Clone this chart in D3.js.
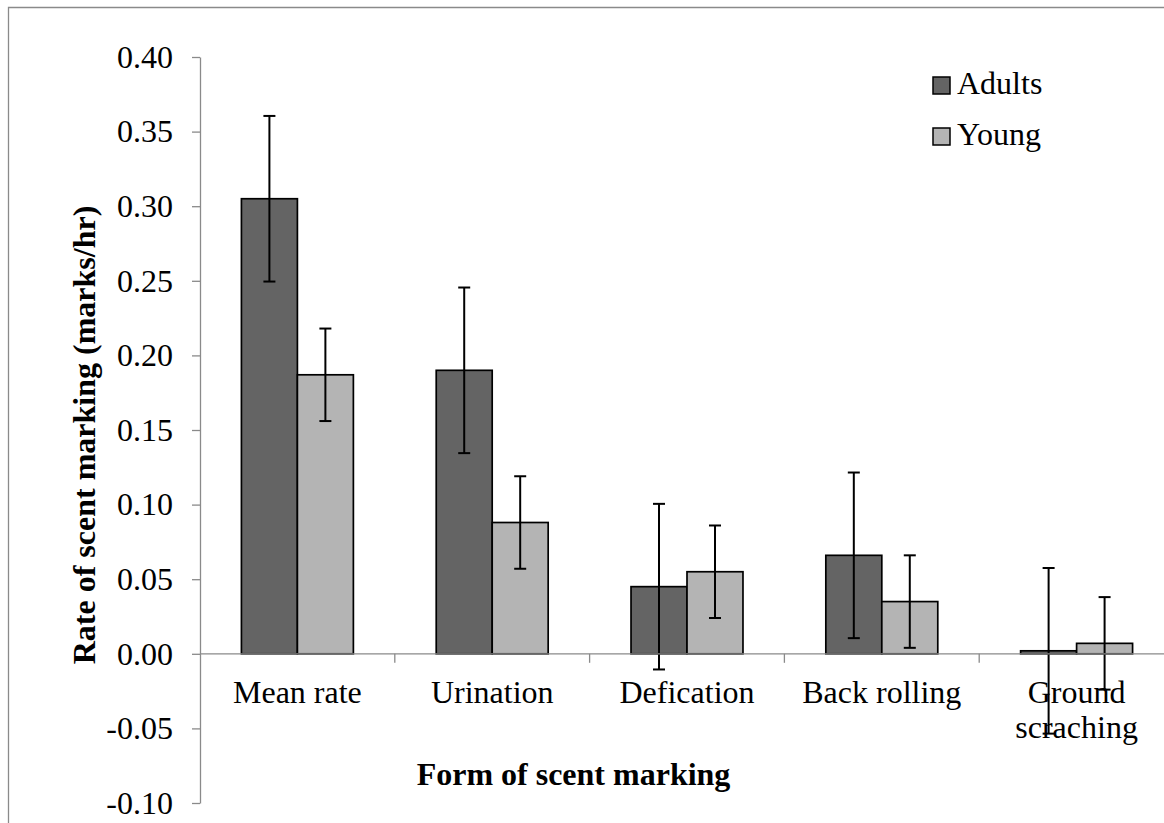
<!DOCTYPE html>
<html>
<head>
<meta charset="utf-8">
<script src="https://cdn.jsdelivr.net/npm/d3@7"></script>
<style>
  html, body { margin: 0; padding: 0; background: #fff; }
  svg { display: block; font-family: "Liberation Serif", "Times New Roman", serif; }
</style>
</head>
<body>
<svg id="chart" width="1164" height="823"></svg>
<script>
// Scent marking rates by form, for adults and young
const categories = ["Mean rate", "Urination", "Defication", "Back rolling", "Ground\nscraching"];
const seriesNames = ["Adults", "Young"];
const adultValues = [0.305, 0.190, 0.045, 0.066, 0.002];
const youngValues = [0.187, 0.088, 0.055, 0.035, 0.007];
const adultErrors = [0.0555, 0.0555, 0.0555, 0.0555, 0.0555];
const youngErrors = [0.031, 0.031, 0.031, 0.031, 0.031];
const yTickValues = [-0.10, -0.05, 0.00, 0.05, 0.10, 0.15, 0.20, 0.25, 0.30, 0.35, 0.40];
const seriesColors = ["#646464", "#b4b4b4"];

const svg = d3.select("#chart");
const axisGray = "#8a8a8a";
const fontSize = 32;

// outer frame (top and left edges fall inside the page)
svg.append("path")
  .attr("d", "M8.5,840 V7.5 H1180")
  .attr("fill", "none").attr("stroke", axisGray).attr("stroke-width", 1.3);

const plot = { left: 200, top: 57, bottom: 803, right: 1174 };

const y = d3.scaleLinear().domain([-0.10, 0.40]).range([plot.bottom, plot.top]);
const x = d3.scaleBand().domain(categories).range([plot.left, plot.right]).paddingInner(0).paddingOuter(0);
const xs = d3.scaleBand().domain(seriesNames).range([0, x.bandwidth()]).paddingInner(0).paddingOuter(0.74);

// y axis
const yAxis = svg.append("g")
  .attr("transform", `translate(${plot.left},0)`)
  .call(d3.axisLeft(y).tickValues(yTickValues).tickSize(8).tickSizeOuter(0).tickPadding(19));
yAxis.select(".domain").attr("stroke", axisGray).attr("stroke-width", 1.3);
yAxis.selectAll(".tick line").attr("stroke", axisGray).attr("stroke-width", 1.3);
yAxis.selectAll(".tick text")
  .attr("font-family", "Liberation Serif, serif")
  .attr("font-size", fontSize).attr("fill", "#000")
  .text(d => d < 0 ? "-" + d3.format(".2f")(-d) : d3.format(".2f")(d));

const data = categories.map((c, i) => ({
  cat: c,
  bars: [
    { s: "Adults", v: adultValues[i], e: adultErrors[i], color: seriesColors[0] },
    { s: "Young", v: youngValues[i], e: youngErrors[i], color: seriesColors[1] }
  ]
}));

// bars
const groups = svg.append("g").selectAll("g").data(data).join("g")
  .attr("transform", d => `translate(${x(d.cat)},0)`);

groups.selectAll("rect").data(d => d.bars).join("rect")
  .attr("x", d => xs(d.s))
  .attr("width", xs.bandwidth())
  .attr("y", d => y(Math.max(0, d.v)))
  .attr("height", d => Math.abs(y(d.v) - y(0)))
  .attr("fill", d => d.color)
  .attr("stroke", "#000").attr("stroke-width", 1.7);

// x axis on the zero line
const xAxis = svg.append("g")
  .attr("transform", `translate(0,${y(0)})`);
xAxis.append("line")
  .attr("x1", plot.left).attr("x2", plot.right)
  .attr("stroke", axisGray).attr("stroke-width", 1.3);
xAxis.selectAll("line.tick").data(categories).join("line")
  .attr("class", "tick")
  .attr("x1", d => x(d) + x.step())
  .attr("x2", d => x(d) + x.step())
  .attr("y1", 0).attr("y2", 9)
  .attr("stroke", axisGray).attr("stroke-width", 1.3);

// error bars
const err = groups.selectAll("g.err").data(d => d.bars).join("g").attr("class", "err");
const cx = d => xs(d.s) + xs.bandwidth() / 2;
err.append("line")
  .attr("x1", cx).attr("x2", cx)
  .attr("y1", d => y(d.v + d.e)).attr("y2", d => y(d.v - d.e))
  .attr("stroke", "#000").attr("stroke-width", 2);
err.append("line")
  .attr("x1", d => cx(d) - 6).attr("x2", d => cx(d) + 6)
  .attr("y1", d => y(d.v + d.e)).attr("y2", d => y(d.v + d.e))
  .attr("stroke", "#000").attr("stroke-width", 2);
err.append("line")
  .attr("x1", d => cx(d) - 6).attr("x2", d => cx(d) + 6)
  .attr("y1", d => y(d.v - d.e)).attr("y2", d => y(d.v - d.e))
  .attr("stroke", "#000").attr("stroke-width", 2);

// category labels
svg.append("g").selectAll("text").data(categories).join("text")
  .attr("x", d => x(d) + x.bandwidth() / 2)
  .attr("y", 703)
  .attr("text-anchor", "middle")
  .attr("font-size", fontSize).attr("fill", "#000")
  .each(function (d) {
    const lines = d.split("\n");
    d3.select(this).selectAll("tspan").data(lines).join("tspan")
      .attr("x", x(d) + x.bandwidth() / 2)
      .attr("dy", (l, i) => i === 0 ? 0 : 35)
      .text(l => l);
  });

// axis titles
svg.append("text")
  .attr("x", 573.5).attr("y", 785)
  .attr("text-anchor", "middle")
  .attr("font-size", 32).attr("font-weight", "bold").attr("fill", "#000")
  .text("Form of scent marking");

svg.append("text")
  .attr("transform", "translate(95,435) rotate(-90)")
  .attr("text-anchor", "middle")
  .attr("font-size", 32).attr("font-weight", "bold").attr("fill", "#000")
  .text("Rate of scent marking (marks/hr)");

// legend
const legend = svg.append("g").selectAll("g").data(seriesNames).join("g")
  .attr("transform", (d, i) => `translate(933,${77 + i * 51})`);
legend.append("rect")
  .attr("width", 17).attr("height", 17)
  .attr("fill", (d, i) => seriesColors[i])
  .attr("stroke", "#000").attr("stroke-width", 1.5);
legend.append("text")
  .attr("x", 24).attr("y", 17)
  .attr("font-size", fontSize).attr("fill", "#000")
  .text(d => d);
</script>
</body>
</html>
